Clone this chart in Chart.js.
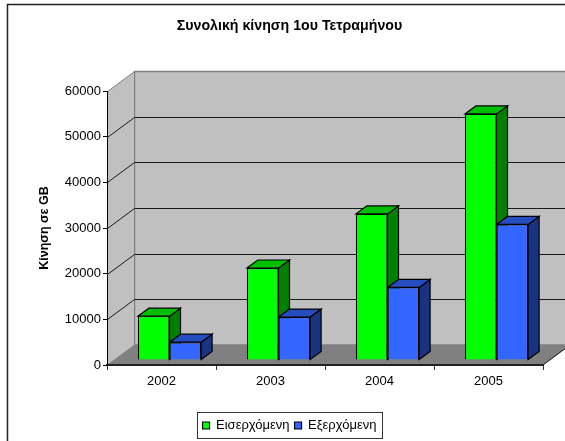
<!DOCTYPE html>
<html>
<head>
<meta charset="utf-8">
<style>html,body{margin:0;padding:0;background:#fff;overflow:hidden}canvas{display:block}</style>
<script src="https://cdn.jsdelivr.net/npm/chart.js@4"></script>
</head>
<body>
<canvas id="c" width="565" height="441"></canvas>
<script>
const categories = ['2002', '2003', '2004', '2005'];
const inbound = [9600, 20150, 32000, 53900];
const outbound = [3900, 9400, 15900, 29700];
const seriesNames = ['Εισερχόμενη', 'Εξερχόμενη'];
const titleText = 'Συνολική κίνηση 1ου Τετραμήνου';
const yTitle = 'Κίνηση σε GB';
const yMax = 60000;
const yStep = 10000;

const WALL = { x: 27, y: 20 };      // perspective offset of back wall
const INSET = { x: 8, y: 5 };       // bars stand inside the floor
const DEPTH = { x: 11, y: 8 };      // depth of each bar
const shades = [
  { front: '#00FF00', top: '#00BF00', side: '#008000' },
  { front: '#3366FF', top: '#264DBF', side: '#1A3380' }
];

function poly(ctx, pts, fill, stroke, lw) {
  ctx.beginPath();
  pts.forEach((p, i) => i ? ctx.lineTo(p[0], p[1]) : ctx.moveTo(p[0], p[1]));
  ctx.closePath();
  if (fill) { ctx.fillStyle = fill; ctx.fill(); }
  if (stroke) { ctx.strokeStyle = stroke; ctx.lineWidth = lw || 1; ctx.stroke(); }
}

const scene3d = {
  id: 'scene3d',
  beforeDraw(chart) {
    const { ctx, chartArea: a, scales } = chart;
    const L = a.left + 0.5, R = a.right, T = a.top + 0.5, B = a.bottom;
    ctx.save();
    // outer frame
    ctx.strokeStyle = '#222';
    ctx.lineWidth = 1.5;
    ctx.beginPath();
    ctx.moveTo(7.5, 441); ctx.lineTo(7.5, 4.5); ctx.lineTo(565, 4.5);
    ctx.stroke();
    // walls and floor
    poly(ctx, [[L + WALL.x, T - WALL.y], [R + WALL.x, T - WALL.y], [R + WALL.x, B - WALL.y], [L + WALL.x, B - WALL.y]], '#C0C0C0', '#808080', 1.5);
    poly(ctx, [[L, T], [L + WALL.x, T - WALL.y], [L + WALL.x, B - WALL.y], [L, B]], '#C0C0C0', '#808080', 1);
    // grid on the walls
    scales.y.ticks.forEach(t => {
      if (t.value === 0 || t.value === yMax) return;
      const y = Math.round(scales.y.getPixelForValue(t.value)) + 0.5;
      ctx.strokeStyle = '#1a1a1a';
      ctx.lineWidth = 1;
      ctx.beginPath();
      ctx.moveTo(L, y); ctx.lineTo(L + WALL.x, y - WALL.y); ctx.lineTo(R + WALL.x, y - WALL.y);
      ctx.stroke();
    });
    poly(ctx, [[L, B], [L + WALL.x, B - WALL.y], [R + WALL.x, B - WALL.y], [R, B]], '#808080');
    ctx.strokeStyle = '#111';
    ctx.lineWidth = 1;
    ctx.beginPath();
    ctx.moveTo(R, B); ctx.lineTo(R + WALL.x, B - WALL.y);
    ctx.stroke();
    // legend frame
    const boxes = chart.legend.legendHitBoxes;
    const x0 = Math.min(...boxes.map(b => b.left)) - 6;
    const x1 = Math.max(...boxes.map(b => b.left + b.width)) + 5;
    const y0 = boxes[0].top - 7;
    const y1 = boxes[0].top + boxes[0].height + 6;
    ctx.strokeStyle = '#333';
    ctx.lineWidth = 1;
    ctx.strokeRect(Math.round(x0) + 0.5, Math.round(y0) + 0.5, Math.round(x1 - x0), Math.round(y1 - y0));
    ctx.restore();
  },
  beforeDatasetsDraw(chart) {
    const ctx = chart.ctx;
    ctx.save();
    ctx.translate(INSET.x, -INSET.y);
    chart.data.datasets.forEach((ds, di) => {
      chart.getDatasetMeta(di).data.forEach(bar => {
        const p = bar.getProps(['x', 'y', 'base', 'width'], true);
        const l = p.x - p.width / 2, r = p.x + p.width / 2, t = p.y, b = p.base;
        poly(ctx, [[r, t], [r + DEPTH.x, t - DEPTH.y], [r + DEPTH.x, b - DEPTH.y], [r, b]], shades[di].side, '#000', 1.2);
        poly(ctx, [[l, t], [l + DEPTH.x, t - DEPTH.y], [r + DEPTH.x, t - DEPTH.y], [r, t]], shades[di].top, '#000', 1.2);
      });
    });
  },
  afterDatasetsDraw(chart) {
    chart.ctx.restore();
  }
};

const font = 'Liberation Sans, Arial, sans-serif';
Chart.defaults.font.family = font;
Chart.defaults.color = '#000';

new Chart(document.getElementById('c'), {
  type: 'bar',
  plugins: [scene3d],
  data: {
    labels: categories,
    datasets: [
      { label: seriesNames[0], data: inbound, backgroundColor: shades[0].front, borderColor: '#000', borderWidth: 1.2, clip: false },
      { label: seriesNames[1], data: outbound, backgroundColor: shades[1].front, borderColor: '#000', borderWidth: 1.2, clip: false }
    ]
  },
  options: {
    responsive: false,
    animation: false,
    layout: { padding: { left: 36, right: 22, top: 18, bottom: -1 } },
    datasets: { bar: { categoryPercentage: 0.58, barPercentage: 1 } },
    plugins: {
      tooltip: { enabled: false },
      title: {
        display: true, text: titleText,
        font: { size: 14.2, weight: 'bold', family: font },
        color: '#000',
        padding: { top: 0, bottom: 56 }
      },
      legend: {
        position: 'bottom',
        onClick: null,
        labels: {
          boxWidth: 7, boxHeight: 7, padding: 5,
          font: { size: 13, family: font }, color: '#000'
        }
      }
    },
    scales: {
      x: {
        grid: { drawOnChartArea: false, drawTicks: true, tickLength: 5, color: '#333', offset: true },
        border: { color: '#222', width: 2 },
        ticks: { padding: 4, font: { size: 13, family: font }, color: '#000', maxRotation: 0 },
        afterFit(s) { s.height = 49; }
      },
      y: {
        min: 0, max: yMax,
        grid: { drawOnChartArea: false, drawTicks: true, tickLength: 4, color: '#000' },
        border: { color: '#000', width: 1 },
        ticks: { stepSize: yStep, padding: 2, font: { size: 13, family: font }, color: '#000',
                 callback: v => String(v) },
        title: { display: true, text: yTitle, font: { size: 12.5, weight: 'bold', family: font }, color: '#000', padding: { top: 1, bottom: 0 } },
        afterFit(s) { s.width = 71; }
      }
    }
  }
});
</script>
</body>
</html>
